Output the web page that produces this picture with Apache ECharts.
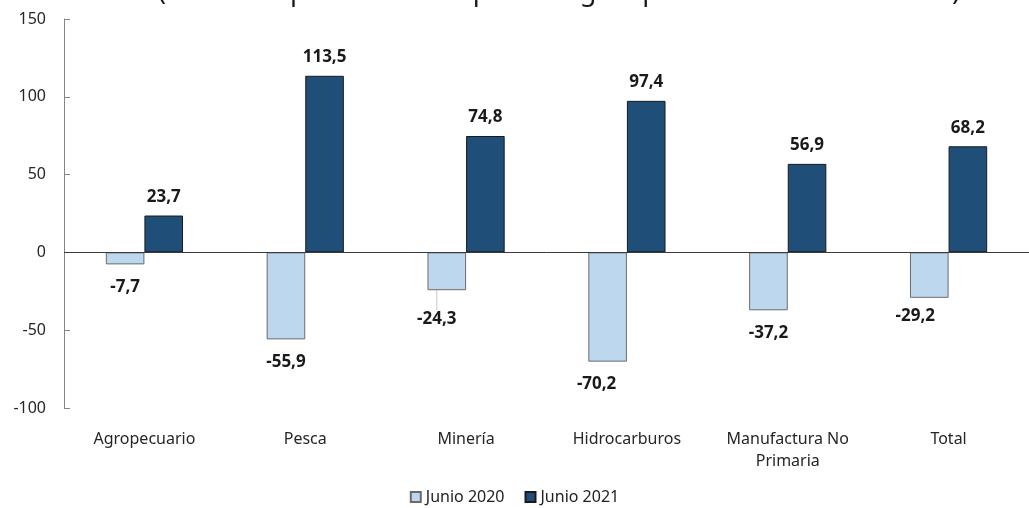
<!DOCTYPE html>
<html>
<head>
<meta charset="utf-8">
<script src="https://cdn.jsdelivr.net/npm/echarts@6/dist/echarts.min.js"></script>
<style>
html,body{margin:0;padding:0;background:#fff;}
#chart{width:1029px;height:508px;}
</style>
</head>
<body>
<div id="chart"></div>
<script>
var categories = ['Agropecuario', 'Pesca', 'Minería', 'Hidrocarburos', 'Manufactura No\nPrimaria', 'Total'];
var junio2020 = [-7.7, -55.9, -24.3, -70.2, -37.2, -29.2];
var junio2021 = [23.7, 113.5, 74.8, 97.4, 56.9, 68.2];
var yTicks = { min: -100, max: 150, interval: 50 };
var titleText = '(Variación porcentual respecto a igual periodo del año anterior)';

var chart = echarts.init(document.getElementById('chart'), null, { renderer: 'canvas' });
var fmt = function (p) { return p.value.toFixed(1).replace('.', ','); };
var labelFont = { fontFamily: 'Noto Sans', fontWeight: 'bold', fontSize: 17, color: '#1a1a1a' };

// only the Minería label carries a leader line in the reference
var data2020 = junio2020.map(function (v, i) {
  return i === 2 ? { value: v, labelLine: { show: true, lineStyle: { color: '#c8c8c8', width: 1 } } } : { value: v };
});

chart.setOption({
  animation: false,
  backgroundColor: '#ffffff',
  graphic: [{
    type: 'text',
    x: 559,
    y: 6,
    style: { text: titleText, font: '27px "Noto Sans"', fill: '#1a1a1a', textAlign: 'center', textVerticalAlign: 'bottom' }
  }],
  legend: {
    bottom: -2,
    left: 'center',
    icon: 'rect',
    itemWidth: 10,
    itemHeight: 10,
    itemGap: 20,
    textStyle: { fontFamily: 'Noto Sans', fontSize: 16, color: '#222' },
    data: ['Junio 2020', 'Junio 2021']
  },
  grid: { left: 64, top: 19, width: 974, height: 389, containLabel: false },
  xAxis: {
    type: 'category',
    data: categories,
    axisLine: { show: false, onZero: false },
    axisTick: { show: false },
    axisLabel: { margin: 20, fontFamily: 'Noto Sans', fontSize: 16, color: '#262626', lineHeight: 22, interval: 0 },
    splitLine: { show: false }
  },
  yAxis: {
    type: 'value',
    min: yTicks.min,
    max: yTicks.max,
    interval: yTicks.interval,
    axisLine: { show: true, lineStyle: { color: '#868686', width: 1 } },
    axisTick: { show: true, inside: true, length: 6, lineStyle: { color: '#868686' } },
    axisLabel: { margin: 18, fontFamily: 'Noto Sans', fontSize: 16, color: '#262626' },
    splitLine: { show: false }
  },
  series: [{
    name: 'Junio 2020',
    type: 'bar',
    data: data2020,
    barWidth: '24%',
    barGap: '0%',
    itemStyle: { color: '#BDD7EE', borderColor: '#6b6b6b', borderWidth: 1 },
    label: Object.assign({ show: true, position: 'bottom', distance: 14, formatter: fmt }, labelFont),
    labelLayout: function (p) {
      if (p.dataIndex === 2) return { dx: -10, dy: 6 };
      if (p.dataIndex === 3) return { dx: -11 };
      if (p.dataIndex === 5) return { dx: -14, dy: -4 };
      return {};
    }
  }, {
    name: 'Junio 2021',
    type: 'bar',
    data: junio2021,
    barWidth: '24%',
    barGap: '0%',
    itemStyle: { color: '#1F4E79', borderColor: '#1a1a1a', borderWidth: 1 },
    label: Object.assign({ show: true, position: 'top', distance: 10, formatter: fmt }, labelFont),
    markLine: {
      silent: true,
      symbol: 'none',
      label: { show: false },
      lineStyle: { color: '#3a3a3a', width: 1, type: 'solid' },
      data: [{ yAxis: 0 }]
    }
  }]
});
</script>
</body>
</html>
